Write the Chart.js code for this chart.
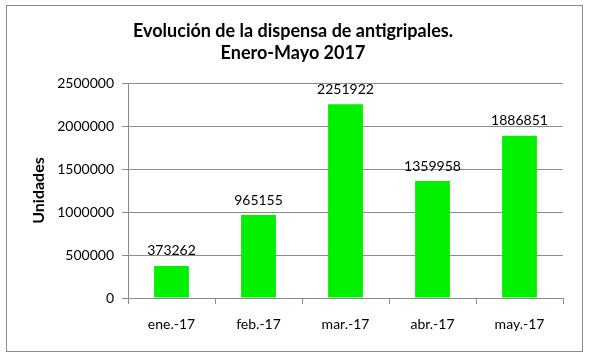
<!DOCTYPE html>
<html>
<head>
<meta charset="utf-8">
<script src="https://cdn.jsdelivr.net/npm/chart.js@4"></script>
<style>
html,body{margin:0;padding:0;background:#fff;}
#wrap{width:589px;height:358px;position:relative;}
</style>
</head>
<body>
<div id="wrap"><canvas id="c" width="589" height="358"></canvas></div>
<script>
const categories = ['ene.-17', 'feb.-17', 'mar.-17', 'abr.-17', 'may.-17'];
const unidades = [373262, 965155, 2251922, 1359958, 1886851];
const titleLines = ['Evolución de la dispensa de antigripales.', 'Enero-Mayo 2017'];
const yTitle = 'Unidades';

const FONT = 'Lato, "Open Sans", sans-serif';

const decor = {
  id: 'decor',
  beforeDraw(chart) {
    const ctx = chart.ctx;
    ctx.save();
    ctx.fillStyle = '#fff';
    ctx.fillRect(0, 0, chart.width, chart.height);
    ctx.strokeStyle = '#8c8c8c';
    ctx.lineWidth = 1;
    ctx.strokeRect(6.5, 5.5, 576, 346);
    ctx.fillStyle = '#000';
    ctx.font = 'bold 18px ' + FONT;
    ctx.textAlign = 'center';
    ctx.textBaseline = 'middle';
    ctx.fillText(titleLines[0], 293, 31);
    ctx.fillText(titleLines[1], 293, 53);
    ctx.restore();
  },
  afterDatasetsDraw(chart) {
    const ctx = chart.ctx;
    const meta = chart.getDatasetMeta(0);
    ctx.save();
    ctx.fillStyle = '#000';
    ctx.font = '14px ' + FONT;
    ctx.textAlign = 'center';
    ctx.textBaseline = 'middle';
    meta.data.forEach((bar, i) => {
      ctx.fillText(String(chart.data.datasets[0].data[i]), bar.x, bar.y - 15);
    });
    ctx.restore();
  }
};

new Chart(document.getElementById('c'), {
  type: 'bar',
  data: {
    labels: categories,
    datasets: [{
      data: unidades,
      backgroundColor: '#00f000',
      borderWidth: 0,
      categoryPercentage: 1,
      barPercentage: 0.4
    }]
  },
  plugins: [decor],
  options: {
    responsive: false,
    animation: false,
    devicePixelRatio: 1,
    layout: { padding: { left: 29, right: 26, top: 83, bottom: 0 } },
    plugins: { legend: { display: false }, title: { display: false }, tooltip: { enabled: false } },
    scales: {
      x: {
        afterFit(s) { s.height = 60; },
        offset: true,
        grid: { offset: true, drawOnChartArea: false, drawTicks: true, tickLength: 6, color: '#8c8c8c' },
        border: { display: true, color: '#8c8c8c' },
        ticks: { color: '#000', font: { family: FONT, size: 14 }, padding: 12, maxRotation: 0 }
      },
      y: {
        afterFit(s) { s.width = 99; },
        min: 0, max: 2500000,
        grid: { color: '#8c8c8c', tickLength: 6, drawTicks: true },
        border: { display: true, color: '#8c8c8c' },
        ticks: { stepSize: 500000, color: '#000', font: { family: FONT, size: 14 }, padding: 8,
                 callback: v => String(v) },
        title: { display: true, text: yTitle, color: '#000', font: { family: FONT, size: 16, weight: 'bold' }, padding: 0 }
      }
    }
  }
});
</script>
</body>
</html>
